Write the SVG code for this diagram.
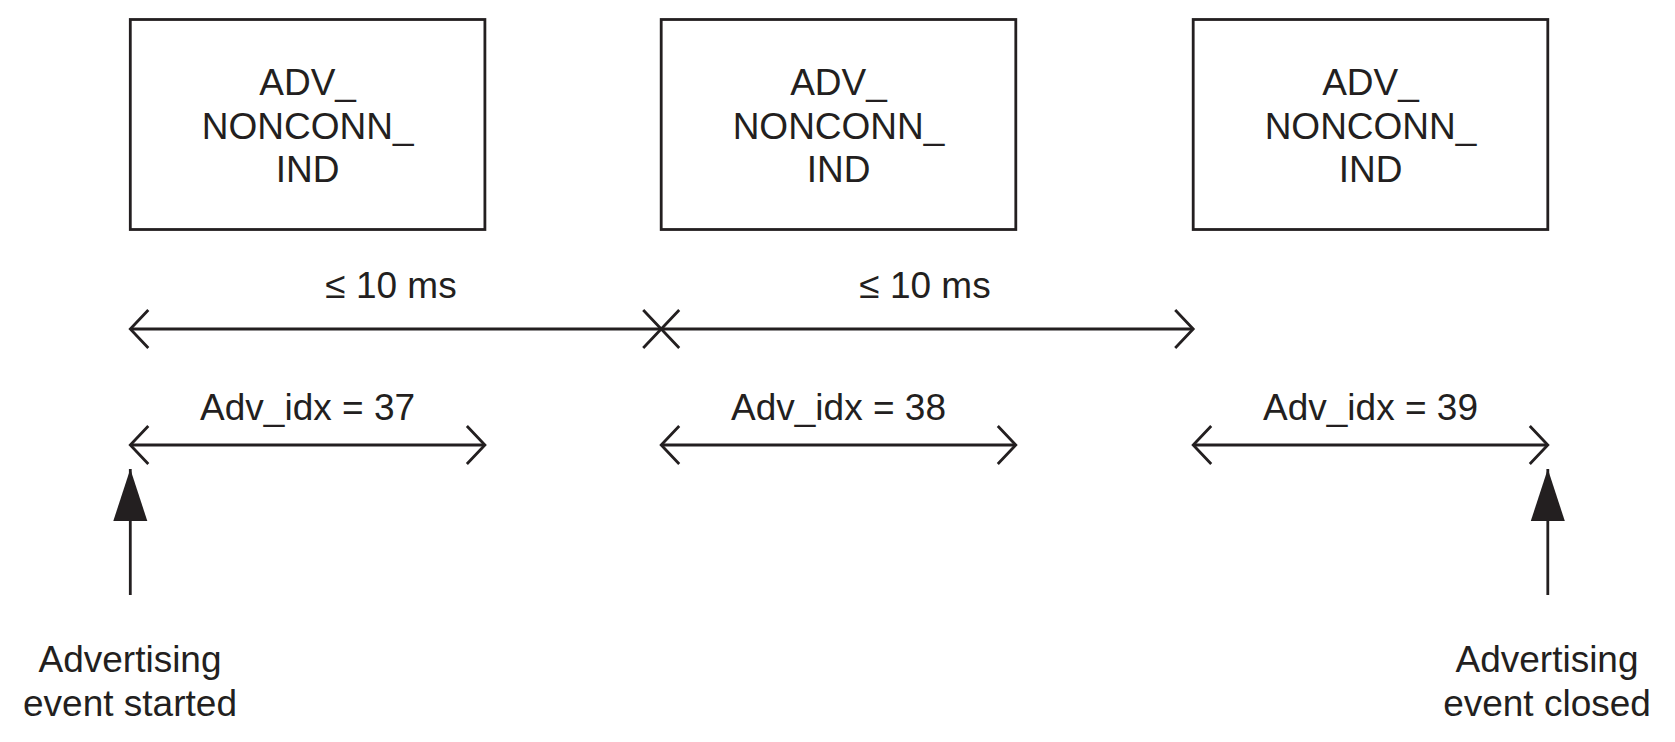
<svg xmlns="http://www.w3.org/2000/svg" width="1675" height="742" viewBox="0 0 1675 742">
<style>
.box{fill:#fff;stroke:#231f20;stroke-width:2.8}
.ln{fill:none;stroke:#231f20;stroke-width:2.8}
text{font-family:"Liberation Sans",Arial,sans-serif;font-size:37px;fill:#231f20;text-anchor:middle}
</style>
<defs>
<marker id="chev" markerUnits="userSpaceOnUse" viewBox="-22 -22 26 44" refX="0" refY="0" markerWidth="26" markerHeight="44" orient="auto-start-reverse" overflow="visible">
<path d="M -18 -19 L 0 0 L -18 19" fill="none" stroke="#231f20" stroke-width="2.8" stroke-linejoin="miter"/>
</marker>
<marker id="tri" markerUnits="userSpaceOnUse" viewBox="-52 -18 54 36" refX="0" refY="0" markerWidth="54" markerHeight="36" orient="auto" overflow="visible">
<path d="M 0 0 L -52 -17 L -52 17 Z" fill="#231f20"/>
</marker>
</defs>
<rect width="1675" height="742" fill="#fff"/>
<g id="pdu1">
<rect class="box" x="130.3" y="19.5" width="354.6" height="210"/>
<text x="307.6" y="95">ADV_</text>
<text x="307.6" y="138.5">NONCONN_</text>
<text x="307.6" y="182">IND</text>
</g>
<g id="pdu2">
<rect class="box" x="661.2" y="19.5" width="354.6" height="210"/>
<text x="838.5" y="95">ADV_</text>
<text x="838.5" y="138.5">NONCONN_</text>
<text x="838.5" y="182">IND</text>
</g>
<g id="pdu3">
<rect class="box" x="1193.2" y="19.5" width="354.6" height="210"/>
<text x="1370.5" y="95">ADV_</text>
<text x="1370.5" y="138.5">NONCONN_</text>
<text x="1370.5" y="182">IND</text>
</g>
<g id="labels">
<text x="391" y="298">≤ 10 ms</text>
<text x="925" y="298">≤ 10 ms</text>
<text x="307.6" y="420">Adv_idx = 37</text>
<text x="838.5" y="420">Adv_idx = 38</text>
<text x="1370.5" y="420">Adv_idx = 39</text>
</g>
<g id="start">
<text x="130" y="672">Advertising</text>
<text x="130" y="716">event started</text>
</g>
<g id="close">
<text x="1547" y="672">Advertising</text>
<text x="1547" y="716">event closed</text>
</g>
<g id="connectors">
<line class="ln" x1="130.3" y1="329" x2="661.2" y2="329" marker-start="url(#chev)" marker-end="url(#chev)"/>
<line class="ln" x1="661.2" y1="329" x2="1193.2" y2="329" marker-start="url(#chev)" marker-end="url(#chev)"/>
<line class="ln" x1="130.3" y1="445" x2="484.9" y2="445" marker-start="url(#chev)" marker-end="url(#chev)"/>
<line class="ln" x1="661.2" y1="445" x2="1015.8" y2="445" marker-start="url(#chev)" marker-end="url(#chev)"/>
<line class="ln" x1="1193.2" y1="445" x2="1547.8" y2="445" marker-start="url(#chev)" marker-end="url(#chev)"/>
<line class="ln" x1="130.3" y1="595" x2="130.3" y2="469" marker-end="url(#tri)"/>
<line class="ln" x1="1547.8" y1="595" x2="1547.8" y2="469" marker-end="url(#tri)"/>
</g>
</svg>
